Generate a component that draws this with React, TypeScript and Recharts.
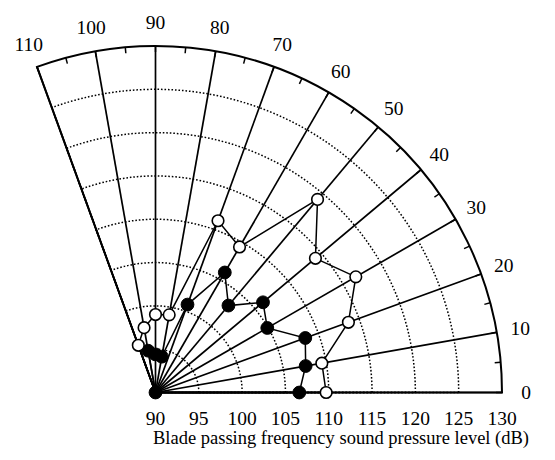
import React from 'react';
import {
  RadarChart,
  Radar,
  PolarGrid,
  PolarAngleAxis,
  PolarRadiusAxis,
  Pie,
} from 'recharts';

// Measurement directions (degrees) and the two measured blade-passing SPL curves (dB)
const directionDeg = [0, 10, 20, 30, 40, 50, 60, 70, 80, 90, 100, 110];
const splHollow = [109.7, 109.5, 113.7, 116.7, 114.1, 119.1, 109.4, 111.1, 99.1, 99.0, 97.6, 95.8];
const splSolid = [106.6, 107.6, 108.4, 104.9, 106.2, 103.1, 106.0, 100.8, 94.2, 94.4, 94.9, 90.0];

// Axis ticks
const levelTicks = [90, 95, 100, 105, 110, 115, 120, 125, 130];
const levelRings = [95, 100, 105, 110, 115, 120, 125];
const directionTicks = [0, 5, 10, 15, 20, 25, 30, 35, 40, 45, 50, 55, 60, 65, 70, 75, 80, 85, 90, 95, 100, 105, 110];

// Layout
const W = 540;
const H = 450;
const CX = 147.5;
const CY = 384.5;
const R = 346.5;
const LEVEL_MIN = levelTicks[0];
const LEVEL_MAX = levelTicks[levelTicks.length - 1];
const SECTOR_END = directionDeg[directionDeg.length - 1];
const TICK_LEN = 6;
const LABEL_GAP = 24;
const FONT = '"Liberation Serif", "Times New Roman", serif';

const ringRadius = (db: number) => ((db - LEVEL_MIN) / (LEVEL_MAX - LEVEL_MIN)) * R;

// One row per direction; the trailing empty row keeps each curve open (no closing chord)
const rows: Array<{ angle: number; hollow: number | null; solid: number | null }> = [
  ...directionDeg.map((a, i) => ({ angle: a, hollow: splHollow[i], solid: splSolid[i] })),
  { angle: SECTOR_END + 10, hollow: null, solid: null },
];

const pointValue = (props: any) => {
  const p = props.payload;
  if (p && 'value' in p) return p.value;
  return props.value;
};

const AngleTick = (props: any) => {
  const { x, y, payload } = props;
  const v = payload.value as number;
  if (v % 10 !== 0) return <g />;
  const rad = (payload.coordinate * Math.PI) / 180;
  const off = TICK_LEN + LABEL_GAP;
  return (
    <text
      x={x + off * Math.cos(rad)}
      y={y - off * Math.sin(rad)}
      textAnchor="middle"
      dominantBaseline="central"
      fontFamily={FONT}
      fontSize={19.5}
      fill="#000"
    >
      {v}
    </text>
  );
};

const LevelTick = (props: any) => {
  const { x, y, payload } = props;
  return (
    <text
      x={x}
      y={y + 26}
      textAnchor="middle"
      dominantBaseline="central"
      fontFamily={FONT}
      fontSize={19.5}
      fill="#000"
    >
      {payload.value}
    </text>
  );
};

const HollowDot = (props: any) => {
  const { cx, cy, index } = props;
  const v = pointValue(props);
  if (v == null || !Number.isFinite(cx) || !Number.isFinite(cy)) return <g key={`h${index}`} />;
  return <circle key={`h${index}`} cx={cx} cy={cy} r={5.8} fill="#fff" stroke="#000" strokeWidth={1.6} />;
};

const SolidDot = (props: any) => {
  const { cx, cy, index } = props;
  const v = pointValue(props);
  if (v == null || !Number.isFinite(cx) || !Number.isFinite(cy)) return <g key={`s${index}`} />;
  return <circle key={`s${index}`} cx={cx} cy={cy} r={6.4} fill="#000" stroke="#000" strokeWidth={1} />;
};

export default function App() {
  return (
    <div style={{ position: 'relative', width: W, height: H }}>
      <RadarChart
        width={W}
        height={H}
        data={rows}
        cx={CX}
        cy={CY}
        innerRadius={0}
        outerRadius={R}
        startAngle={0}
        endAngle={360}
        margin={{ top: 0, right: 0, bottom: 0, left: 0 }}
      >
        <PolarGrid
          gridType="circle"
          polarAngles={directionDeg}
          polarRadius={[]}
          stroke="#000"
          strokeWidth={1.7}
        />
        {levelRings.map((db) => (
          <Pie
            key={db}
            data={[{ span: 1 }]}
            dataKey="span"
            cx={CX}
            cy={CY}
            innerRadius={0}
            outerRadius={ringRadius(db)}
            startAngle={0}
            endAngle={SECTOR_END}
            fill="none"
            stroke="#000"
            strokeWidth={1.5}
            strokeDasharray="1.6 1.9"
            isAnimationActive={false}
          />
        ))}
        <Pie
          data={[{ span: 1 }]}
          dataKey="span"
          cx={CX}
          cy={CY}
          innerRadius={0}
          outerRadius={R}
          startAngle={0}
          endAngle={SECTOR_END}
          fill="none"
          stroke="#000"
          strokeWidth={2}
          isAnimationActive={false}
        />
        <PolarAngleAxis
          dataKey="angle"
          type="number"
          domain={[0, 360]}
          ticks={directionTicks}
          axisLine={false}
          orientation="inner"
          tickSize={TICK_LEN}
          tickLine={{ stroke: '#000', strokeWidth: 1.5 }}
          tick={AngleTick}
        />
        <PolarRadiusAxis
          angle={0}
          type="number"
          scale="linear"
          domain={[LEVEL_MIN, LEVEL_MAX]}
          allowDataOverflow
          ticks={levelTicks}
          axisLine={false}
          tickLine={false}
          tick={LevelTick}
        />
        <Radar
          dataKey="solid"
          stroke="#000"
          strokeWidth={1.5}
          fill="none"
          fillOpacity={0}
          dot={SolidDot}
          isAnimationActive={false}
        />
        <Radar
          dataKey="hollow"
          stroke="#000"
          strokeWidth={1.5}
          fill="none"
          fillOpacity={0}
          dot={HollowDot}
          isAnimationActive={false}
        />
      </RadarChart>
      <div
        style={{
          position: 'absolute',
          left: 83,
          width: 500,
          top: 419,
          lineHeight: '22px',
          textAlign: 'center',
          fontFamily: FONT,
          fontSize: 18.5,
          color: '#000',
          whiteSpace: 'nowrap',
        }}
      >
        Blade passing frequency sound pressure level (dB)
      </div>
    </div>
  );
}
